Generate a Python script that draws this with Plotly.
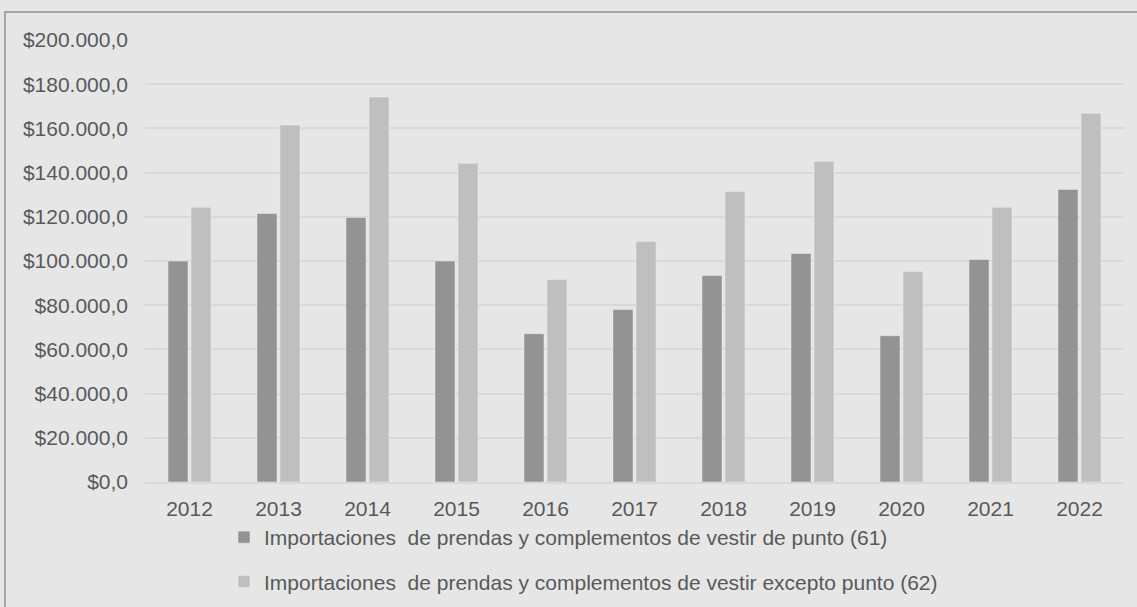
import plotly.graph_objects as go

years = ["2012", "2013", "2014", "2015", "2016", "2017", "2018", "2019", "2020", "2021", "2022"]
punto_61 = [100000, 121500, 119700, 100000, 67100, 78000, 93400, 103400, 66200, 100700, 132400]
excepto_62 = [124300, 161500, 174200, 144200, 91600, 108800, 131500, 145100, 95200, 124300, 166900]

name_61 = "Importaciones  de prendas y complementos de vestir de punto (61)"
name_62 = "Importaciones  de prendas y complementos de vestir excepto punto (62)"

BG = "#e6e6e6"
TEXT = "#595959"
GRID = "#d9d9d9"

W, H = 1137, 607
L, R, T, B = 145, 13, 40, 125

fig = go.Figure()
fig.add_trace(go.Bar(x=years, y=punto_61, name=name_61, marker_color="#939393",
                     legendgroup="a"))
fig.add_trace(go.Bar(x=years, y=excepto_62, name=name_62, marker_color="#bfbfbf",
                     legendgroup="b"))

# pixel -> paper helpers for the decorations
pw, ph = W - L - R, H - T - B
def px_x(p):
    return (p - L) / pw
def px_y(p):
    return (H - B - p) / ph

# outer chart border, clipped on the right and bottom like the source
fig.add_shape(type="rect", xref="paper", yref="paper",
              x0=px_x(5), x1=px_x(1160), y0=px_y(12), y1=px_y(640),
              line=dict(color="#a6a6a6", width=2), layer="below")

fig.update_layout(
    width=W, height=H,
    margin=dict(l=L, r=R, t=T, b=B, autoexpand=False),
    paper_bgcolor=BG, plot_bgcolor=BG,
    font=dict(family="Liberation Sans, Arial, sans-serif", size=21, color=TEXT),
    separators=",.",
    barmode="group", bargap=0.483, bargroupgap=0.13,
    showlegend=True,
    legend=dict(orientation="v", x=px_x(224), xanchor="left",
                y=px_y(517), yanchor="top", bgcolor="rgba(0,0,0,0)",
                tracegroupgap=14, font=dict(size=21, color=TEXT),
                itemwidth=30),
)
fig.update_yaxes(range=[0, 200000], dtick=20000, tickformat="$,.1f",
                 showgrid=True, gridcolor=GRID, gridwidth=1.5,
                 zeroline=False, showline=False, ticks="", ticklabelstandoff=16)
fig.update_xaxes(showline=True, linecolor=GRID, linewidth=1.5, ticks="",
                 ticklabelstandoff=7, showgrid=False)

fig.write_html("out.html", config={"displayModeBar": False},
               post_script="document.body.style.margin='0';")
